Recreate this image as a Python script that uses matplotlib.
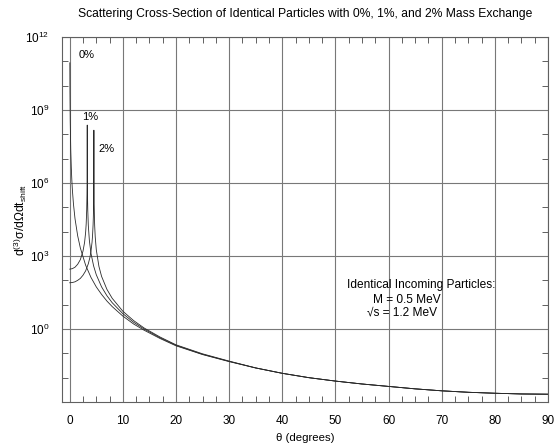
import matplotlib
matplotlib.use('Agg')
import matplotlib.pyplot as plt
from matplotlib.ticker import FixedLocator, LogFormatterSciNotation, MultipleLocator, NullFormatter

plt.rcParams['font.family'] = ['Liberation Sans', 'DejaVu Sans']
plt.rcParams['mathtext.fontset'] = 'custom'
plt.rcParams['mathtext.rm'] = 'Liberation Sans'
plt.rcParams['mathtext.it'] = 'Liberation Sans:italic'

# Forward-angle part of each curve (theta in degrees, cross-section)
theta_0 = [0.025, 0.05, 0.1, 0.2, 0.3, 0.4, 0.5, 0.7, 1.0, 1.5, 2, 3, 4, 5, 6, 7, 8,
           10, 12, 14, 17, 20, 25, 30]
sigma_0 = [8.7e10, 5.37e9, 3.39e8, 2.14e7, 4.17e6, 1.32e6, 5.37e5, 1.41e5, 3.39e4,
           6.76e3, 2.14e3, 4.17e2, 1.32e2, 53.7, 26.3, 14.1, 8.32,
           3.39, 1.62, 0.891, 0.407, 0.204, 0.0891, 0.0457]

theta_1 = [0, 0.5, 1.0, 1.5, 2.0, 2.5, 2.8, 3.0, 3.1, 3.2, 3.25, 3.28, 3.29, 3.30,
           3.31, 3.32, 3.35, 3.4, 3.5, 3.7, 4.0, 4.5, 5, 6, 7, 8, 10, 12, 14, 17,
           20, 25, 30]
sigma_1 = [288, 302, 347, 457, 708, 1.58e3, 3.63e3, 9.55e3, 2.09e4, 7.94e4, 3.16e5,
           2.0e6, 7.76e6, 2.4e8, 7.76e6, 1.95e6, 3.09e5, 7.59e4, 1.82e4, 4.37e3,
           1.29e3, 389, 170, 53.7, 23.4, 12.0, 4.27, 1.91, 1.00, 0.437,
           0.214, 0.0912, 0.0468]

theta_2 = [0, 0.5, 1.0, 1.5, 2.0, 2.5, 3.0, 3.5, 3.8, 4.0, 4.2, 4.3, 4.4, 4.45, 4.5,
           4.53, 4.54, 4.55, 4.56, 4.57, 4.6, 4.65, 4.7, 4.8, 5.0, 5.5, 6, 7, 8,
           10, 12, 14, 17, 20, 25, 30]
sigma_2 = [79.4, 81.3, 87.1, 100, 120, 162, 245, 479, 871, 1.55e3, 3.63e3, 6.92e3,
           1.91e4, 4.17e4, 1.66e5, 1.05e6, 4.37e6, 1.48e8, 3.89e6, 1.0e6, 1.58e5,
           3.98e4, 1.74e4, 6.17e3, 1.82e3, 372, 145, 42.7, 18.2,
           5.37, 2.24, 1.10, 0.468, 0.224, 0.0955, 0.0479]

# Large-angle part, where the three curves coincide
tail_theta = [35, 40, 45, 50, 55, 60, 65, 70, 75, 80, 85, 90]
tail_sigma = [0.0251, 0.0151, 0.0100, 0.00724, 0.00550, 0.00437, 0.00347,
              0.00288, 0.00251, 0.00229, 0.00214, 0.00209]

curve_labels = ['0%', '1%', '2%']
label_pos = [(1.7, 1.9e11), (2.25, 5.4e8), (5.4, 2.6e7)]

fig = plt.figure(figsize=(5.54, 4.46), dpi=100)
ax = fig.add_axes([62 / 554, 1 - 402 / 446, 486 / 554, 365 / 446])

for th, sg in [(theta_0, sigma_0), (theta_1, sigma_1), (theta_2, sigma_2)]:
    ax.plot(th + tail_theta, sg + tail_sigma, color='#2a2a2a', lw=0.6)

ax.set_yscale('log')
ax.set_xlim(-1.45, 90)
ax.set_ylim(1e-3, 1e12)

ax.xaxis.set_major_locator(MultipleLocator(10))
ax.xaxis.set_minor_locator(MultipleLocator(2.5))
ax.yaxis.set_major_locator(FixedLocator([10.0 ** k for k in range(0, 13, 3)]))
ax.yaxis.set_major_formatter(LogFormatterSciNotation())
ax.yaxis.set_minor_locator(FixedLocator([10.0 ** k for k in range(-3, 13)]))
ax.yaxis.set_minor_formatter(NullFormatter())

ax.grid(True, which='major', color='#787878', lw=0.8)
ax.tick_params(which='both', direction='in', top=True, right=True,
               color='#606060', labelsize=8.5)
ax.tick_params(which='major', length=0, pad=9)
ax.tick_params(which='minor', length=4, width=0.7)
for s in ax.spines.values():
    s.set_color('#606060')
    s.set_linewidth(0.8)

for txt, (x, y) in zip(curve_labels, label_pos):
    ax.text(x, y, txt, ha='left', va='center', fontsize=8)

ax.text(52.2, 63, 'Identical Incoming Particles:', ha='left', va='center', fontsize=8.6)
ax.text(57.0, 15.5, 'M = 0.5 MeV', ha='left', va='center', fontsize=8.6)
ax.text(56.0, 4.6, '\u221as = 1.2 MeV', ha='left', va='center', fontsize=8.6)

fig.text(305 / 554, 1 - 14 / 446,
         'Scattering Cross-Section of Identical Particles with 0%, 1%, and 2% Mass Exchange',
         ha='center', va='center', fontsize=8.7)
fig.text(305 / 554, 1 - 438 / 446, '\u03b8 (degrees)', ha='center', va='center', fontsize=8.2)
fig.text(20 / 554, 1 - 220 / 446, r'd$^{\rm (3)}$σ/dΩdt$_{\rm shift}$',
         ha='center', va='center', rotation=90, fontsize=8.7)

fig.savefig('out.png', dpi=100)
